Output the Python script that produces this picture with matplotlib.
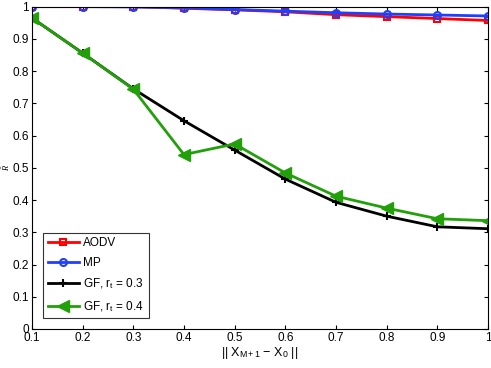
import numpy as np
import matplotlib.pyplot as plt

plt.rcParams['font.family'] = ['Liberation Sans', 'DejaVu Sans']
plt.rcParams['mathtext.fontset'] = 'custom'
plt.rcParams['mathtext.rm'] = 'Liberation Sans'
plt.rcParams['mathtext.it'] = 'Liberation Serif:italic'

# Données
x = [0.1, 0.2, 0.3, 0.4, 0.5, 0.6, 0.7, 0.8, 0.9, 1.0]
aodv = [1.0, 1.0, 1.0, 0.995, 0.990, 0.984, 0.975, 0.969, 0.963, 0.957]
mp = [1.0, 1.0, 0.999, 0.996, 0.991, 0.986, 0.981, 0.977, 0.974, 0.971]
gf_03 = [0.965, 0.856, 0.745, 0.646, 0.555, 0.465, 0.393, 0.350, 0.317, 0.311]
gf_04 = [0.965, 0.856, 0.744, 0.541, 0.574, 0.484, 0.412, 0.375, 0.342, 0.336]

fig = plt.figure(figsize=(4.91, 3.68), dpi=100)
ax = fig.add_axes([0.065, 0.106, 0.929, 0.876])

ax.plot(x, aodv, color='#ff0000', lw=2, marker='s', ms=4.5, mfc='none', mew=1.5, label='AODV')
ax.plot(x, mp, color='#1f3fff', lw=2, marker='o', ms=5, mfc='none', mew=1.5, label='MP')
ax.plot(x, gf_03, color='black', lw=2, marker='+', ms=6, mew=1.5, label=r'GF, r$_\mathregular{t}$ = 0.3')
ax.plot(x, gf_04, color='#22a00a', lw=2, marker='<', ms=8.5, label=r'GF, r$_\mathregular{t}$ = 0.4')

ax.set_xlim(0.1, 1.0)
ax.set_ylim(0, 1.0)
ax.set_xticks(np.arange(1, 11) / 10)
ax.set_xticklabels(['0.1', '0.2', '0.3', '0.4', '0.5', '0.6', '0.7', '0.8', '0.9', '1'])
ax.set_yticks(np.arange(0, 11) / 10)
ax.set_yticklabels(['0', '0.1', '0.2', '0.3', '0.4', '0.5', '0.6', '0.7', '0.8', '0.9', '1'])
ax.tick_params(direction='in', labelsize=8.5, top=True, right=True, length=3, pad=2)

ax.set_xlabel(r'|| X$_\mathregular{M+1}$ $-$ X$_\mathregular{0}$ ||', fontsize=9, labelpad=1)
fig.text(0.012, 0.545, r'$\bar{R}$', fontsize=6, rotation=90, ha='center', va='center')

leg = ax.legend(loc='lower left', bbox_to_anchor=(0.012, 0.015), fontsize=8.5, fancybox=False,
                edgecolor='black', handlelength=2.6, borderpad=0.4, labelspacing=0.65,
                handletextpad=0.4)
leg.get_frame().set_linewidth(0.8)

fig.savefig('out.png', dpi=100)
